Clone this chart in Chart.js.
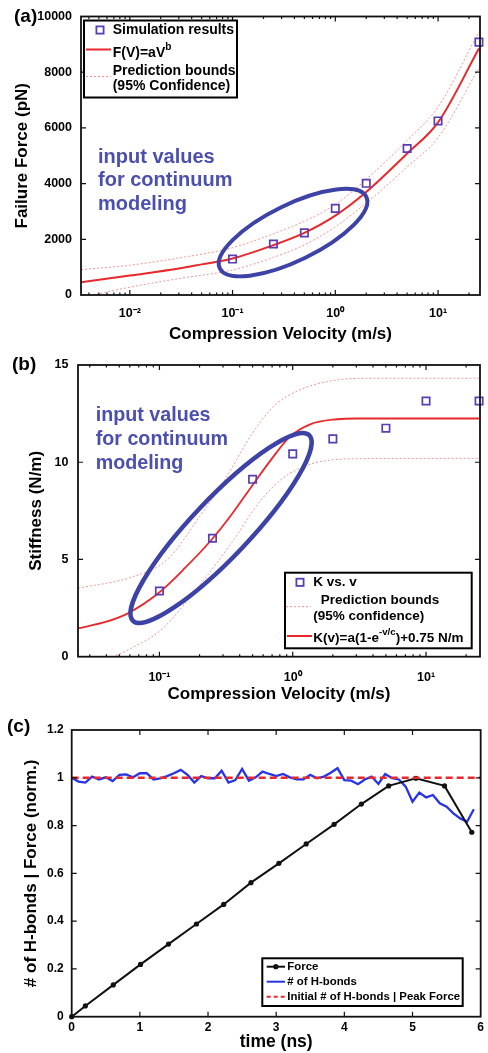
<!DOCTYPE html>
<html>
<head>
<meta charset="utf-8">
<script src="https://cdn.jsdelivr.net/npm/chart.js@4.4.1/dist/chart.umd.min.js"></script>
<style>
  html, body { margin: 0; padding: 0; background: #fff; }
  body { width: 488px; height: 1053px; position: relative; overflow: hidden; }
  canvas { position: absolute; left: 0; }
</style>
</head>
<body>
<canvas id="chartA" width="488" height="345" style="top:0"></canvas>
<canvas id="chartB" width="488" height="360" style="top:345px"></canvas>
<canvas id="chartC" width="488" height="348" style="top:705px"></canvas>
<script>
// ---- (a) failure force vs compression velocity ----
const velocity = [0.1, 0.25, 0.5, 1, 2, 5, 10, 25];
const failureForce = [1290, 1830, 2230, 3110, 4010, 5260, 6250, 9080];
const fitVelA = [0.00335, 0.01, 0.03, 0.05, 0.1, 0.25, 0.5, 1, 2, 5, 10, 25];
const fitForceA = [455, 700, 950, 1100, 1310, 1790, 2230, 2850, 3700, 5080, 6200, 8850];
const upperVelA = [0.00335, 0.01, 0.03, 0.1, 0.25, 0.5, 1, 2, 5, 10, 25];
const upperForceA = [910, 1070, 1330, 1700, 2200, 2650, 3250, 4150, 5550, 6750, 9450];
const lowerVelA = [0.00335, 0.01, 0.03, 0.1, 0.25, 0.5, 1, 2, 5, 10, 25];
const lowerForceA = [-100, 280, 590, 900, 1350, 1800, 2450, 3300, 4600, 5650, 8150];

// ---- (b) stiffness vs compression velocity ----
const stiffness = [3.38, 6.09, 9.12, 10.43, 11.2, 11.75, 13.15, 13.15];
const fitVelB = [0.0245, 0.04, 0.058, 0.098, 0.155, 0.245, 0.347, 0.49, 0.7, 0.95, 1.35, 2.15, 3, 25];
const fitStiffB = [1.46, 1.8, 2.23, 3.26, 4.55, 6.0, 7.3, 8.74, 10.2, 11.3, 11.95, 12.21, 12.25, 12.25];
const upperVelB = [0.0245, 0.0638, 0.1135, 0.2, 0.32, 0.48, 0.716, 1.13, 2.02, 3.6, 25];
const upperStiffB = [3.52, 4.12, 4.97, 7.2, 9.26, 11.32, 12.86, 13.72, 14.2, 14.32, 14.32];
const lowerVelB = [0.0245, 0.045, 0.064, 0.1, 0.15, 0.23, 0.36, 0.57, 0.85, 1.35, 2, 3, 25];
const lowerStiffB = [-0.6, 0, 0.5, 1.3, 2.6, 4.2, 6.0, 8.0, 9.2, 9.9, 10.12, 10.18, 10.2];

// ---- (c) H-bonds and force vs time ----
const forceTime = [0, 0.2, 0.61, 1.01, 1.42, 1.83, 2.23, 2.63, 3.04, 3.44, 3.85, 4.25, 4.65, 5.05, 5.47, 5.87];
const forceNorm = [0, 0.045, 0.133, 0.219, 0.304, 0.388, 0.47, 0.561, 0.642, 0.723, 0.805, 0.89, 0.966, 0.998, 0.966, 0.772];
const hbondTime = [0, 0.1, 0.2, 0.3, 0.4, 0.5, 0.6, 0.7, 0.8, 0.9, 1.0, 1.1, 1.2, 1.3, 1.4, 1.5, 1.6, 1.7, 1.8, 1.9,
  2.0, 2.1, 2.2, 2.3, 2.4, 2.5, 2.6, 2.7, 2.8, 2.9, 3.0, 3.1, 3.2, 3.3, 3.4, 3.5, 3.6, 3.7, 3.8, 3.9,
  4.0, 4.1, 4.2, 4.3, 4.4, 4.5, 4.6, 4.7, 4.8, 4.9, 5.0, 5.1, 5.2, 5.3, 5.4, 5.5, 5.6, 5.7, 5.8, 5.9];
const hbondNorm = [1.0, 0.984, 0.98, 1.005, 0.993, 1.002, 0.986, 1.012, 1.014, 1.002, 1.019, 1.019, 0.993, 0.998, 1.007, 1.019, 1.033, 1.012, 0.98, 1.007,
  0.998, 0.998, 1.03, 0.98, 0.99, 1.037, 0.988, 1.002, 1.026, 1.016, 1.007, 1.016, 1.002, 0.993, 0.993, 1.012, 0.998, 1.005, 1.021, 1.04,
  0.99, 0.988, 0.973, 0.993, 1.005, 0.974, 1.016, 0.998, 0.993, 0.963, 0.9, 0.938, 0.918, 0.928, 0.893, 0.879, 0.851, 0.83, 0.816, 0.868];
const peakTime = [0, 6];
const peakLevel = [1, 1];

// ---- ticks ----
const velTicksA = [0.01, 0.1, 1, 10];
const velLabelsA = ['10⁻²', '10⁻¹', '10⁰', '10¹'];
const velTicksB = [0.1, 1, 10];
const velLabelsB = ['10⁻¹', '10⁰', '10¹'];
const forceTicks = [0, 2000, 4000, 6000, 8000, 10000];
const forceLabels = ['0', '2000', '4000', '6000', '8000', '10000'];
const stiffTicks = [0, 5, 10, 15];
const stiffLabels = ['0', '5', '10', '15'];
const timeTicks = [0, 1, 2, 3, 4, 5, 6];
const timeLabels = ['0', '1', '2', '3', '4', '5', '6'];
const normTicks = [0, 0.2, 0.4, 0.6, 0.8, 1, 1.2];
const normLabels = ['0', '0.2', '0.4', '0.6', '0.8', '1', '1.2'];

const FONT = '"Liberation Sans", Arial, Helvetica, sans-serif';
const RED = '#e8282b', BOUND = '#f29494', MARK = '#5a3db3', OVAL = '#3d42a6', NOTE = '#4b4fae';
const BLUE = '#2633e6', BLACK = '#111';

Chart.defaults.font.family = FONT;
Chart.defaults.font.weight = 'bold';
Chart.defaults.color = '#000';

function pts(xs, ys) { return xs.map((x, i) => ({x, y: ys[i]})); }
function near(list, v) { return list.findIndex(t => Math.abs(t - v) <= Math.abs(t) * 1e-6 + 1e-9); }

function minorLog(min, max) {
  const out = [];
  for (let e = Math.floor(Math.log10(min)); e <= Math.ceil(Math.log10(max)); e++) {
    for (let k = 2; k <= 9; k++) {
      const v = k * Math.pow(10, e);
      if (v > min && v < max) out.push(v);
    }
  }
  return out;
}

function velocityAxis(min, max, tickVals, tickLabels, labelPad, height) {
  return {
    type: 'logarithmic', min, max,
    grid: {display: false, drawTicks: false}, border: {display: false},
    afterBuildTicks: s => { s.ticks = tickVals.concat(minorLog(min, max)).sort((a, b) => a - b).map(v => ({value: v})); },
    ticks: {autoSkip: false, maxRotation: 0, padding: labelPad, font: {size: 12.5, weight: 'bold'},
      callback: v => { const i = near(tickVals, v); return i < 0 ? '' : tickLabels[i]; }},
    title: {display: true, text: 'Compression Velocity (m/s)', font: {size: 17, weight: 'bold'}, padding: {top: 0, bottom: 0}},
    afterFit: s => { s.height = height; }
  };
}

function linearAxis(min, max, tickVals, tickLabels, title, opts) {
  const ax = {
    type: 'linear', min, max,
    grid: {display: false, drawTicks: false}, border: {display: false},
    afterBuildTicks: s => { s.ticks = tickVals.map(v => ({value: v})); },
    ticks: {autoSkip: false, maxRotation: 0, padding: opts.labelPad, font: {size: opts.tickSize, weight: 'bold'},
      callback: (v, i) => tickLabels[i]},
    title: {display: true, text: title, font: {size: opts.titleSize, weight: 'bold'},
      padding: opts.vertical ? {top: opts.titlePad, bottom: 0} : {top: 0, bottom: opts.titlePad}}
  };
  if (opts.vertical) ax.afterFit = s => { s.width = opts.size; };
  else ax.afterFit = s => { s.height = opts.size; };
  return ax;
}

function drawRich(ctx, x, y, segs, size, color) {
  ctx.fillStyle = color;
  ctx.textBaseline = 'middle';
  ctx.textAlign = 'left';
  (typeof segs === 'string' ? [segs] : segs).forEach(seg => {
    const sup = typeof seg !== 'string';
    const t = sup ? seg.sup : seg;
    const fs = sup ? size * 0.72 : size;
    ctx.font = 'bold ' + fs + 'px ' + FONT;
    ctx.fillText(t, x, sup ? y - size * 0.42 : y);
    x += ctx.measureText(t).width;
  });
}

function drawLegend(ctx, lg) {
  ctx.save();
  ctx.fillStyle = '#fff';
  ctx.fillRect(lg.x, lg.y, lg.w, lg.h);
  ctx.lineWidth = 2;
  ctx.strokeStyle = '#000';
  ctx.strokeRect(lg.x, lg.y, lg.w, lg.h);
  lg.rows.forEach(r => {
    const s = r.sample;
    if (s) {
      ctx.save();
      ctx.strokeStyle = s.color;
      ctx.setLineDash(s.dash || []);
      if (s.kind === 'square') {
        ctx.lineWidth = 1.8;
        ctx.strokeRect(s.x - 3.6, s.y - 3.6, 7.2, 7.2);
      } else {
        ctx.lineWidth = s.width;
        ctx.beginPath();
        ctx.moveTo(s.x0, s.y);
        ctx.lineTo(s.x1, s.y);
        ctx.stroke();
        if (s.dot) {
          ctx.fillStyle = s.color;
          ctx.beginPath();
          ctx.arc((s.x0 + s.x1) / 2, s.y, 2.6, 0, 2 * Math.PI);
          ctx.fill();
        }
      }
      ctx.restore();
    }
    drawRich(ctx, r.x, r.y, r.text, lg.size, '#000');
  });
  ctx.restore();
}

// MATLAB-like box with inward ticks on all four sides
function drawFrame(chart, majorX, majorY) {
  const {ctx, chartArea: a, scales} = chart;
  ctx.save();
  ctx.strokeStyle = BLACK;
  ctx.lineWidth = 1.2;
  ctx.beginPath();
  scales.x.ticks.forEach(t => {
    const p = scales.x.getPixelForValue(t.value);
    if (p <= a.left + 0.5 || p >= a.right - 0.5) return;
    const len = near(majorX, t.value) >= 0 ? 5 : 2.5;
    ctx.moveTo(p, a.bottom); ctx.lineTo(p, a.bottom - len);
    ctx.moveTo(p, a.top); ctx.lineTo(p, a.top + len);
  });
  scales.y.ticks.forEach(t => {
    const p = scales.y.getPixelForValue(t.value);
    if (p <= a.top + 0.5 || p >= a.bottom - 0.5) return;
    const len = near(majorY, t.value) >= 0 ? 5 : 2.5;
    ctx.moveTo(a.left, p); ctx.lineTo(a.left + len, p);
    ctx.moveTo(a.right, p); ctx.lineTo(a.right - len, p);
  });
  ctx.stroke();
  ctx.lineWidth = 1.8;
  ctx.strokeRect(a.left, a.top, a.right - a.left, a.bottom - a.top);
  ctx.restore();
}

function overlay(spec) {
  return {
    id: 'overlay' + spec.name,
    afterDatasetsDraw(chart) {
      const {ctx, scales} = chart;
      if (spec.oval) {
        const o = spec.oval;
        ctx.save();
        ctx.beginPath();
        ctx.ellipse(scales.x.getPixelForValue(o.x), scales.y.getPixelForValue(o.y), o.rx, o.ry, o.rot * Math.PI / 180, 0, 2 * Math.PI);
        ctx.lineWidth = o.width;
        ctx.strokeStyle = OVAL;
        ctx.stroke();
        ctx.restore();
      }
      if (spec.note) {
        const n = spec.note;
        ctx.save();
        n.lines.forEach((t, i) => drawRich(ctx, n.x, n.y + i * n.gap, t, n.size, NOTE));
        ctx.restore();
      }
    },
    afterDraw(chart) {
      const ctx = chart.ctx;
      drawFrame(chart, spec.majorX, spec.majorY);
      if (spec.legend) drawLegend(ctx, spec.legend);
      ctx.save();
      drawRich(ctx, spec.tag.x, spec.tag.y, spec.tag.text, 19, '#000');
      ctx.restore();
    }
  };
}

function markerSet(xs, ys) {
  return {data: pts(xs, ys), showLine: false, pointStyle: 'rect', pointRadius: 5.2, pointBorderWidth: 1.7,
    pointBorderColor: MARK, pointBackgroundColor: 'rgba(0,0,0,0)', clip: 6, order: 0};
}
function curveSet(xs, ys, color, width, dash, order) {
  return {data: pts(xs, ys), showLine: true, pointRadius: 0, borderColor: color, borderWidth: width,
    borderDash: dash, cubicInterpolationMode: 'monotone', order};
}

const common = {
  animation: false, responsive: false, devicePixelRatio: 1,
  plugins: {legend: {display: false}, tooltip: {enabled: false}}
};

// ---- chart (a) ----
new Chart(document.getElementById('chartA'), {
  type: 'scatter',
  data: {datasets: [
    markerSet(velocity, failureForce),
    curveSet(fitVelA, fitForceA, RED, 2, [], 1),
    curveSet(upperVelA, upperForceA, BOUND, 1, [2, 2], 2),
    curveSet(lowerVelA, lowerForceA, BOUND, 1, [2, 2], 3)
  ]},
  options: Object.assign({}, common, {
    layout: {padding: {left: 0, top: 16, right: 8, bottom: 0}},
    scales: {
      x: velocityAxis(0.00335, 25.6, velTicksA, velLabelsA, 11.5, 50),
      y: linearAxis(0, 10000, forceTicks, forceLabels, 'Failure Force (pN)',
        {vertical: true, size: 81, labelPad: 9, tickSize: 12.5, titleSize: 17, titlePad: 12})
    }
  }),
  plugins: [overlay({
    name: 'A', majorX: velTicksA, majorY: forceTicks,
    oval: {x: 0.388, y: 2240, rx: 81.5, ry: 28, rot: -26, width: 4},
    note: {x: 98, y: 157, gap: 23.5, size: 20, lines: ['input values', 'for continuum', 'modeling']},
    tag: {x: 14, y: 17, text: '(a)'},
    legend: {x: 84, y: 20.5, w: 153, h: 77, size: 14, rows: [
      {sample: {kind: 'square', x: 100, y: 30, color: MARK}, x: 112.7, y: 30, text: 'Simulation results'},
      {sample: {x0: 86, x1: 111, y: 49.5, color: RED, width: 2}, x: 112.7, y: 53, text: ['F(V)=aV', {sup: 'b'}]},
      {sample: {x0: 86, x1: 111, y: 76.5, color: BOUND, width: 1, dash: [2, 2]}, x: 112.7, y: 71, text: 'Prediction bounds'},
      {x: 112.7, y: 86.5, text: '(95% Confidence)'}
    ]}
  })]
});

// ---- chart (b) ----
new Chart(document.getElementById('chartB'), {
  type: 'scatter',
  data: {datasets: [
    markerSet(velocity, stiffness),
    curveSet(fitVelB, fitStiffB, RED, 1.8, [], 1),
    curveSet(upperVelB, upperStiffB, BOUND, 1, [2, 2], 2),
    curveSet(lowerVelB, lowerStiffB, BOUND, 1, [2, 2], 3)
  ]},
  options: Object.assign({}, common, {
    layout: {padding: {left: 0, top: 20, right: 8, bottom: 0}},
    scales: {
      x: velocityAxis(0.0245, 25.4, velTicksB, velLabelsB, 13, 48.3),
      y: linearAxis(0, 15, stiffTicks, stiffLabels, 'Stiffness (N/m)',
        {vertical: true, size: 78, labelPad: 9.5, tickSize: 12.5, titleSize: 17, titlePad: 26})
    }
  }),
  plugins: [overlay({
    name: 'B', majorX: velTicksB, majorY: stiffTicks,
    oval: {x: 0.29, y: 6.62, rx: 128, ry: 29, rot: -46.5, width: 4.5},
    note: {x: 95.7, y: 71, gap: 24, size: 19.7, lines: ['input values', 'for continuum', 'modeling']},
    tag: {x: 12, y: 20, text: '(b)'},
    legend: {x: 285, y: 227.7, w: 186.7, h: 75.6, size: 13.5, rows: [
      {sample: {kind: 'square', x: 300, y: 237.3, color: MARK}, x: 313.3, y: 237.3, text: 'K vs. v'},
      {sample: {x0: 286, x1: 311, y: 261.7, color: BOUND, width: 1, dash: [2, 2]}, x: 320.7, y: 255, text: 'Prediction bounds'},
      {x: 313.3, y: 271.7, text: '(95% confidence)'},
      {sample: {x0: 287, x1: 312, y: 291, color: RED, width: 2}, x: 313.3, y: 293.3, text: ['K(v)=a(1-e', {sup: '-v/c'}, ')+0.75 N/m']}
    ]}
  })]
});

// ---- chart (c) ----
new Chart(document.getElementById('chartC'), {
  type: 'scatter',
  data: {datasets: [
    {data: pts(peakTime, peakLevel), showLine: true, pointRadius: 0, borderColor: RED, borderWidth: 2.4, borderDash: [7, 4], order: 0},
    {data: pts(forceTime, forceNorm), showLine: true, pointRadius: 2.6, pointBackgroundColor: BLACK, pointBorderWidth: 0,
      borderColor: BLACK, borderWidth: 2, order: 1, clip: 4},
    {data: pts(hbondTime, hbondNorm), showLine: true, pointRadius: 0, borderColor: BLUE, borderWidth: 2.3, order: 2}
  ]},
  options: Object.assign({}, common, {
    layout: {padding: {left: 0, top: 25, right: 4.7, bottom: 0}},
    scales: {
      x: linearAxis(0, 6, timeTicks, timeLabels, 'time (ns)',
        {vertical: false, size: 36.3, labelPad: 4, tickSize: 12, titleSize: 17.5, titlePad: 0}),
      y: linearAxis(0, 1.2, normTicks, normLabels, '# of H-bonds | Force (norm.)',
        {vertical: true, size: 71.7, labelPad: 8, tickSize: 12, titleSize: 17, titlePad: 21})
    }
  }),
  plugins: [overlay({
    name: 'C', majorX: timeTicks, majorY: normTicks,
    tag: {x: 7, y: 21.7, text: '(c)'},
    legend: {x: 262.3, y: 253.3, w: 200.4, h: 47.7, size: 11.4, rows: [
      {sample: {x0: 266.7, x1: 285, y: 261.7, color: BLACK, width: 2, dot: true}, x: 287.3, y: 261.7, text: 'Force'},
      {sample: {x0: 266.7, x1: 285, y: 276.7, color: BLUE, width: 2}, x: 287.3, y: 276.7, text: '# of H-bonds'},
      {sample: {x0: 266.7, x1: 285, y: 291.7, color: RED, width: 2, dash: [4, 3]}, x: 287.3, y: 291.7, text: 'Initial # of H-bonds | Peak Force'}
    ]}
  })]
});
</script>
</body>
</html>
